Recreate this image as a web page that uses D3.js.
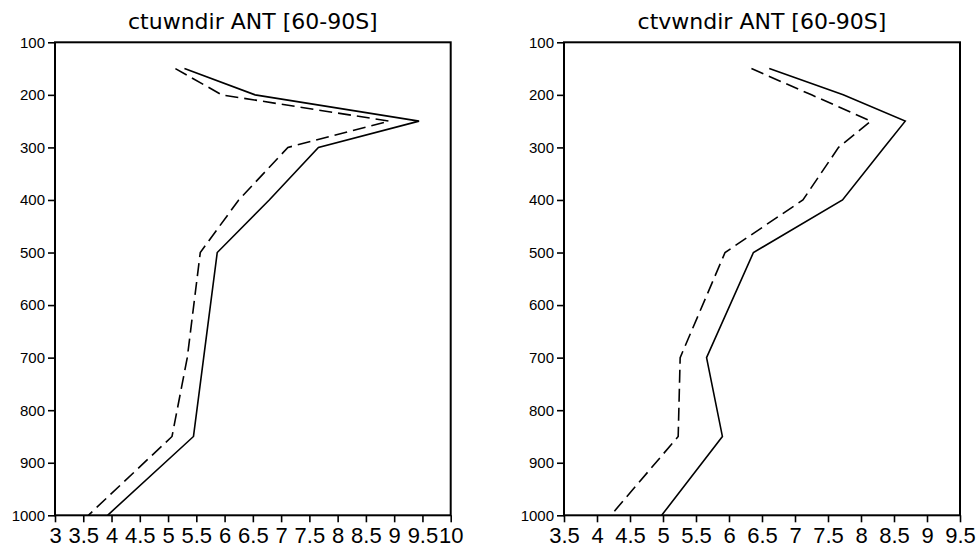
<!DOCTYPE html>
<html>
<head>
<meta charset="utf-8">
<script src="https://cdn.jsdelivr.net/npm/d3@7"></script>
<style>
  body { margin: 0; background: #fff; }
  svg { display: block; }
</style>
</head>
<body>
<div id="container"></div>
<script>
//### DATA ###
// pressure levels (hPa), shared by both panels
const levels = [ 150, 200, 250, 300, 400, 500, 700, 850, 1000 ];

// left panel: ctuwndir
const uSolid  = [ 5.29, 6.54, 9.44, 7.66, 6.79, 5.87, 5.63, 5.45, 3.93 ];
const uDashed = [ 5.13, 5.95, 8.91, 7.12, 6.25, 5.57, 5.34, 5.07, 3.59 ];

// right panel: ctvwndir
const vSolid  = [ 6.61, 7.73, 8.67, 8.35, 7.72, 6.37, 5.66, 5.90, 4.98 ];
const vDashed = [ 6.34, 7.25, 8.15, 7.66, 7.12, 5.94, 5.26, 5.23, 4.21 ];

// axis ticks
const yTicks = [ 100, 200, 300, 400, 500, 600, 700, 800, 900, 1000 ];
const uTicks = [ 3, 3.5, 4, 4.5, 5, 5.5, 6, 6.5, 7, 7.5, 8, 8.5, 9, 9.5, 10 ];
const vTicks = [ 3.5, 4, 4.5, 5, 5.5, 6, 6.5, 7, 7.5, 8, 8.5, 9, 9.5 ];


//### LAYOUT ###
const W = 980, H = 548;
const plotTop = 42.3, plotBottom = 515.3;

const panels = [
  { title: 'ctuwndir ANT [60-90S]', x0: 55, x1: 450.7, domain: [ 3, 10 ], ticks: uTicks, solid: uSolid, dashed: uDashed },
  { title: 'ctvwndir ANT [60-90S]', x0: 564, x1: 960, domain: [ 3.5, 9.5 ], ticks: vTicks, solid: vSolid, dashed: vDashed }
];

const svg = d3.select( '#container' )
  .append( 'svg' )
  .attr( 'width', W )
  .attr( 'height', H );

svg.append( 'rect' )
  .attr( 'width', W )
  .attr( 'height', H )
  .attr( 'fill', '#fff' );

const yScale = d3.scaleLinear()
  .domain( [ 100, 1000 ] )
  .range( [ plotTop, plotBottom ] );

panels.forEach( p => {
  const xScale = d3.scaleLinear()
    .domain( p.domain )
    .range( [ p.x0, p.x1 ] );

  const g = svg.append( 'g' );

  //_____ LINES _____
  const line = d3.line()
    .x( d => xScale( d[ 0 ] ) )
    .y( d => yScale( d[ 1 ] ) );

  g.append( 'path' )
    .datum( p.solid.map( ( v, i ) => [ v, levels[ i ] ] ) )
    .attr( 'd', line )
    .attr( 'fill', 'none' )
    .attr( 'stroke', '#000' )
    .attr( 'stroke-width', 1.6 );

  g.append( 'path' )
    .datum( p.dashed.map( ( v, i ) => [ v, levels[ i ] ] ) )
    .attr( 'd', line )
    .attr( 'fill', 'none' )
    .attr( 'stroke', '#000' )
    .attr( 'stroke-width', 1.6 )
    .attr( 'stroke-dasharray', '13,6' );

  //_____ AXES _____
  const xAxis = g.append( 'g' )
    .attr( 'transform', `translate(0, ${plotBottom})` )
    .call( d3.axisBottom( xScale )
      .tickValues( p.ticks )
      .tickFormat( d3.format( '' ) )
      .tickSize( 7 )
      .tickPadding( 5 ) );

  xAxis.selectAll( 'text' )
    .style( 'font-family', '"Liberation Sans", Arial, sans-serif' )
    .style( 'font-size', '22px' )
    .attr( 'fill', '#000' );

  const yAxis = g.append( 'g' )
    .attr( 'transform', `translate(${p.x0}, 0)` )
    .call( d3.axisLeft( yScale )
      .tickValues( yTicks )
      .tickFormat( d3.format( 'd' ) )
      .tickSize( 7 )
      .tickPadding( 3 ) );

  yAxis.selectAll( 'text' )
    .style( 'font-family', '"Liberation Sans", Arial, sans-serif' )
    .style( 'font-size', '15px' )
    .attr( 'fill', '#000' );

  g.selectAll( '.domain' ).remove();
  g.selectAll( '.tick line' )
    .attr( 'stroke', '#000' )
    .attr( 'stroke-width', 1.6 );

  //>>> frame
  g.append( 'rect' )
    .attr( 'x', p.x0 )
    .attr( 'y', plotTop )
    .attr( 'width', p.x1 - p.x0 )
    .attr( 'height', plotBottom - plotTop )
    .attr( 'fill', 'none' )
    .attr( 'stroke', '#000' )
    .attr( 'stroke-width', 2 );

  //_____ TITLE _____
  g.append( 'text' )
    .attr( 'x', ( p.x0 + p.x1 ) / 2 )
    .attr( 'y', 29 )
    .attr( 'text-anchor', 'middle' )
    .style( 'font-family', '"DejaVu Sans", sans-serif' )
    .style( 'font-size', '22px' )
    .text( p.title );
} );
</script>
</body>
</html>
